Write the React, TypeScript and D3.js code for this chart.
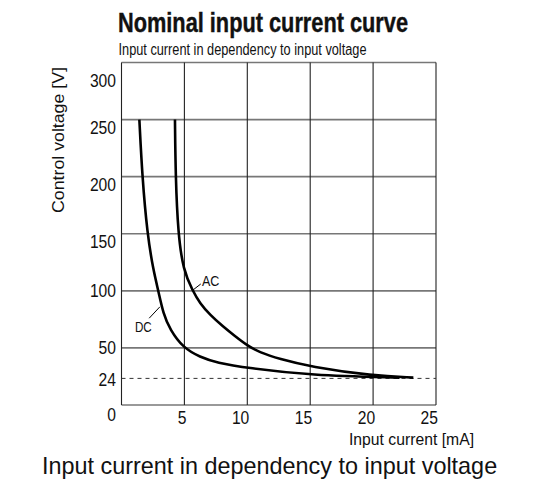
import React from "react"
import * as d3 from "d3"

// values (mA, V)
const dcCurrent = [1.42, 1.65, 2.05, 2.53, 2.93, 3.32, 3.86, 4.91, 6.24, 7.57, 10, 15, 22.1]
const dcVoltage = [250, 200, 150, 118, 100, 80, 66, 50, 42, 37, 32.5, 26, 24]
const acCurrent = [4.25, 4.3, 4.5, 4.91, 5.66, 6.24, 7.03, 8.09, 9, 10, 11, 12.5, 15, 20, 23.2]
const acVoltage = [250, 200, 150, 118, 100, 89, 79, 68.5, 60.5, 52, 46, 40.5, 33.5, 25.5, 24]

const xTicks = [5, 10, 15, 20, 25]
const xGrid = [0, 5, 10, 15, 20, 25]
const yGrid = [0, 50, 100, 150, 200, 250, 300]
const yTickLabels = [0, 24, 50, 100, 150, 200, 250, 300]
const nominalVoltage = 24

const title = "Nominal input current curve"
const subtitle = "Input current in dependency to input voltage"
const yTitle = "Control voltage [V]"
const xTitle = "Input current [mA]"
const caption = "Input current in dependency to input voltage"

// no condensed font installed, so squeeze Liberation Sans with textLength
const font = "'Liberation Sans', Arial, sans-serif"

const W = 533
const H = 479

export default function App() {
  const x = d3.scaleLinear().domain([0, 25]).range([121.5, 436])
  const y = d3.scaleLinear().domain([0, 300]).range([405, 62.5])

  // basis spline evens out the small reading errors
  const line = d3
    .line<[number, number]>()
    .x((d) => x(d[0]))
    .y((d) => y(d[1]))
    .curve(d3.curveBasis)

  const dc = dcCurrent.map((c, i) => [c, dcVoltage[i]] as [number, number])
  const ac = acCurrent.map((c, i) => [c, acVoltage[i]] as [number, number])

  // the y labels hang below their line at the top, centred lower down
  const labelDy = (v: number) => {
    if (v === 300) return 24
    if (v >= 150) return 14.5
    if (v === 0) return 15.5
    if (v === 24) return 8.5
    return 6.5
  }

  const squeezed = (txt: string | number, per: number) => ({
    textLength: String(txt).length * per,
    lengthAdjust: "spacingAndGlyphs",
  })

  return (
    <svg
      width={W}
      height={H}
      style={{ position: "absolute", left: 0, top: 0, background: "#fff" }}
    >
      <text
        x={118}
        y={32}
        fontFamily={font}
        fontWeight="bold"
        fontSize={27}
        fill="#111"
        stroke="#111"
        strokeWidth={0.4}
        textLength={290}
        lengthAdjust="spacingAndGlyphs"
      >
        {title}
      </text>
      <text
        x={118.5}
        y={54.5}
        fontFamily={font}
        fontSize={16}
        fill="#111"
        textLength={248}
        lengthAdjust="spacingAndGlyphs"
      >
        {subtitle}
      </text>

      {/* grid */}
      {yGrid.map((v) => (
        <line key={"h" + v} x1={x(0)} x2={x(25)} y1={y(v)} y2={y(v)} stroke="#777" strokeWidth={1.6} />
      ))}
      {xGrid.map((v) => (
        <line key={"v" + v} x1={x(v)} x2={x(v)} y1={y(0)} y2={y(300)} stroke="#222" strokeWidth={1.1} />
      ))}
      <line
        x1={x(0)}
        x2={x(25)}
        y1={y(nominalVoltage) + 0.8}
        y2={y(nominalVoltage) + 0.8}
        stroke="#333"
        strokeWidth={1}
        strokeDasharray="4,4"
      />

      {/* curves */}
      <path d={line(dc) || ""} fill="none" stroke="#000" strokeWidth={2.6} />
      <path d={line(ac) || ""} fill="none" stroke="#000" strokeWidth={2.6} />

      {/* curve labels */}
      <line x1={x(5.6)} y1={y(100)} x2={x(6.3)} y2={y(106)} stroke="#000" strokeWidth={1} />
      <text x={x(6.4)} y={y(104)} fontFamily={font} fontSize={15.5} fill="#111" {...squeezed("AC", 8.7)}>
        AC
      </text>
      <line x1={x(2.2)} y1={y(76)} x2={x(3.05)} y2={y(86)} stroke="#000" strokeWidth={1} />
      <text x={x(1.07)} y={y(64)} fontFamily={font} fontSize={15.5} fill="#111" {...squeezed("DC", 8.4)}>
        DC
      </text>

      {/* y tick labels */}
      {yTickLabels.map((v) => (
        <text
          key={"yl" + v}
          x={116}
          y={y(v) + labelDy(v)}
          textAnchor="end"
          fontFamily={font}
          fontSize={17.5}
          fill="#111"
          {...squeezed(v, 8.7)}
        >
          {v}
        </text>
      ))}

      {/* x tick labels */}
      {xTicks.map((v) => (
        <text
          key={"xl" + v}
          x={x(v) + 2}
          y={y(0) + 18.5}
          textAnchor="end"
          fontFamily={font}
          fontSize={17.5}
          fill="#111"
          {...squeezed(v, 8.7)}
        >
          {v}
        </text>
      ))}

      <text
        transform="translate(63.5,140) rotate(-90)"
        textAnchor="middle"
        fontFamily={font}
        fontSize={17}
        fill="#111"
        textLength={146}
        lengthAdjust="spacingAndGlyphs"
      >
        {yTitle}
      </text>
      <text
        x={474}
        y={445}
        textAnchor="end"
        fontFamily={font}
        fontSize={16.5}
        fill="#111"
        textLength={125}
        lengthAdjust="spacingAndGlyphs"
      >
        {xTitle}
      </text>

      <text x={42} y={474} fontFamily={font} fontSize={23.4} fill="#111">
        {caption}
      </text>
    </svg>
  )
}
